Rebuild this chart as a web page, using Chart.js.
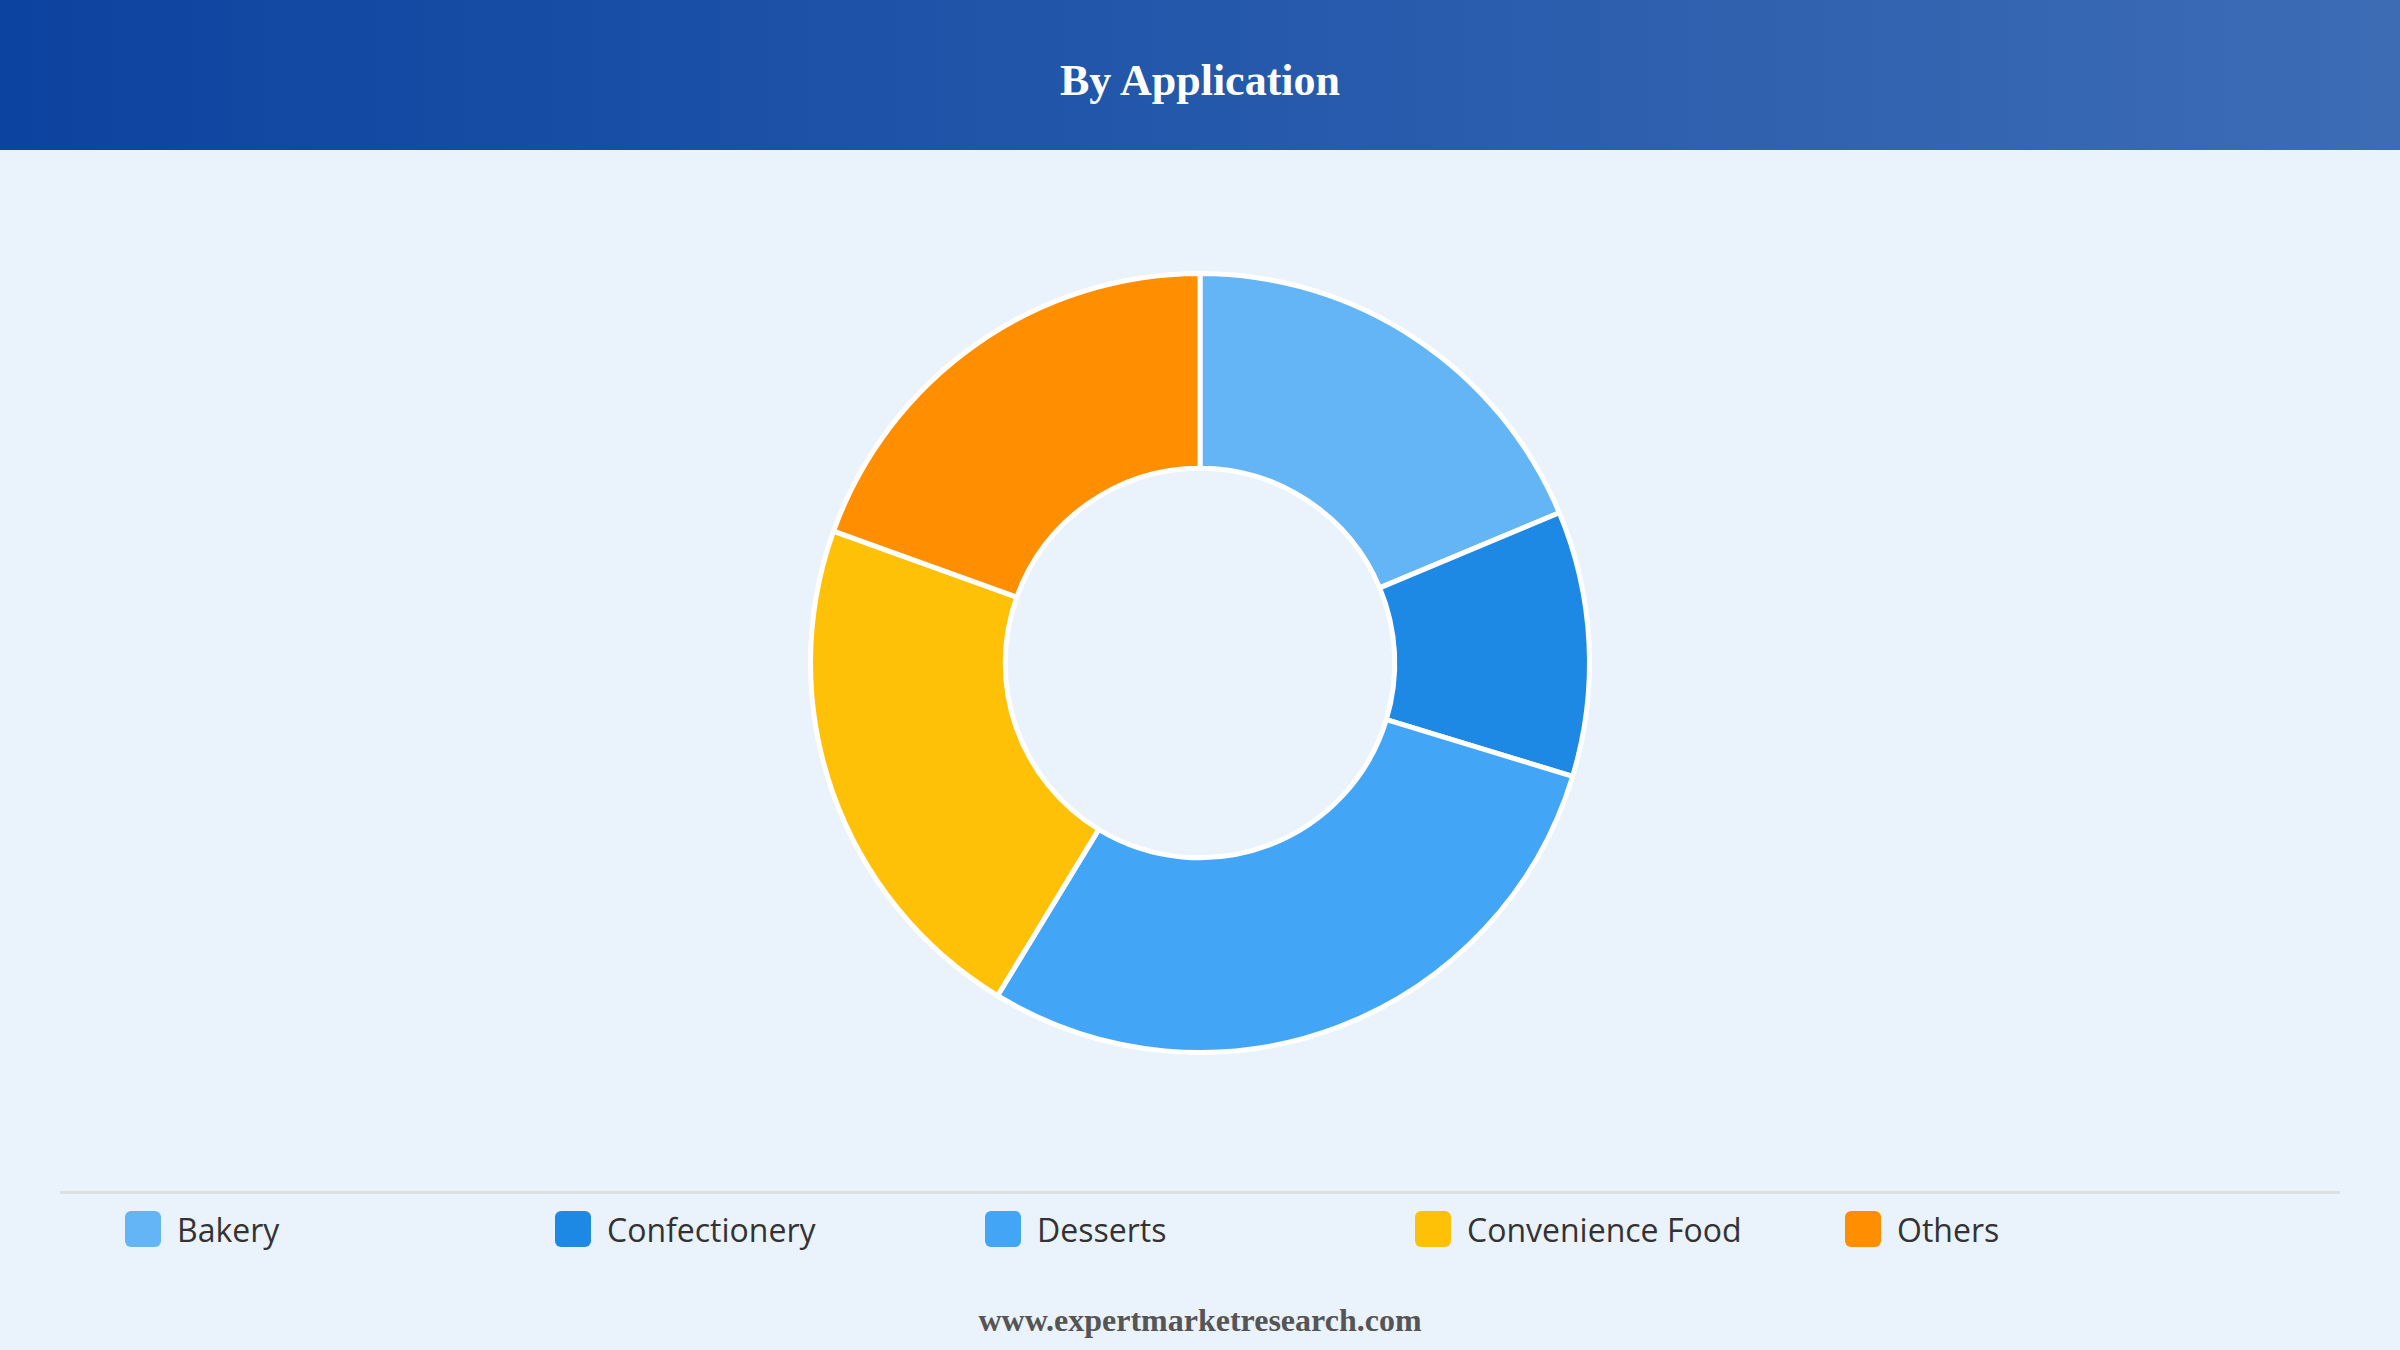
<!DOCTYPE html>
<html>
<head>
<meta charset="utf-8">
<script src="https://cdn.jsdelivr.net/npm/chart.js@4"></script>
<style>
  body { margin: 0; width: 2400px; height: 1350px; background: #eaf2fc; position: relative; overflow: hidden; font-family: "Open Sans", "Noto Sans", sans-serif; }
  .header { position: absolute; left: 0; top: 0; width: 2400px; height: 150px;
    background: linear-gradient(90deg, #0d43a0 0%, #2458ab 50%, #3d6cb5 100%); }
  .header h1 { margin: 0; line-height: 162px; text-align: center; color: #fff;
    font-family: "Liberation Serif", "DejaVu Serif", serif; font-weight: bold; font-size: 44px; }
  .chart-box { position: absolute; left: 0; top: 271px; width: 2400px; height: 784px; }
  .rule { position: absolute; left: 60px; top: 1191px; width: 2280px; height: 3px; background: #dcdfe3; }
  .legend { position: absolute; top: 1207px; left: 0; width: 2400px; height: 44px; }
  .legend-item { position: absolute; top: 0; height: 44px; display: flex; align-items: center; font-size: 32px; color: #333; }
  .legend-item span.box { width: 36px; height: 36px; border-radius: 6px; margin-right: 16px; display: inline-block; }
  .footer { position: absolute; top: 1302px; width: 2400px; text-align: center; color: #555;
    font-family: "Liberation Serif", "DejaVu Serif", serif; font-weight: bold; font-size: 32px; }
</style>
</head>
<body>
<div class="header"><h1>By Application</h1></div>
<div class="chart-box"><canvas id="appChart"></canvas></div>
<div class="rule"></div>
<div class="legend" id="legend"></div>
<div class="footer">www.expertmarketresearch.com</div>
<script>
// Datos del gráfico
const categories = ['Bakery', 'Confectionery', 'Desserts', 'Convenience Food', 'Others'];
const shares = [18.7, 11.0, 29.0, 21.8, 19.5];
const colors = ['#64b5f6', '#1e88e5', '#42a5f5', '#ffc107', '#ff8f00'];
const legendLeft = [125, 555, 985, 1415, 1845];

// Leyenda personalizada
const legend = document.getElementById('legend');
categories.forEach((name, i) => {
    const item = document.createElement('div');
    item.className = 'legend-item';
    item.style.left = legendLeft[i] + 'px';
    item.innerHTML = `<span class="box" style="background:${colors[i]}"></span>${name}`;
    legend.appendChild(item);
});

new Chart(document.getElementById('appChart'), {
    type: 'doughnut',
    data: {
        labels: categories,
        datasets: [{
            data: shares,
            backgroundColor: colors,
            borderColor: '#ffffff',
            borderWidth: 5
        }]
    },
    options: {
        responsive: true,
        maintainAspectRatio: false,
        animation: false,
        cutout: '50%',
        plugins: {
            legend: { display: false },
            tooltip: { enabled: false }
        }
    }
});
</script>
</body>
</html>
